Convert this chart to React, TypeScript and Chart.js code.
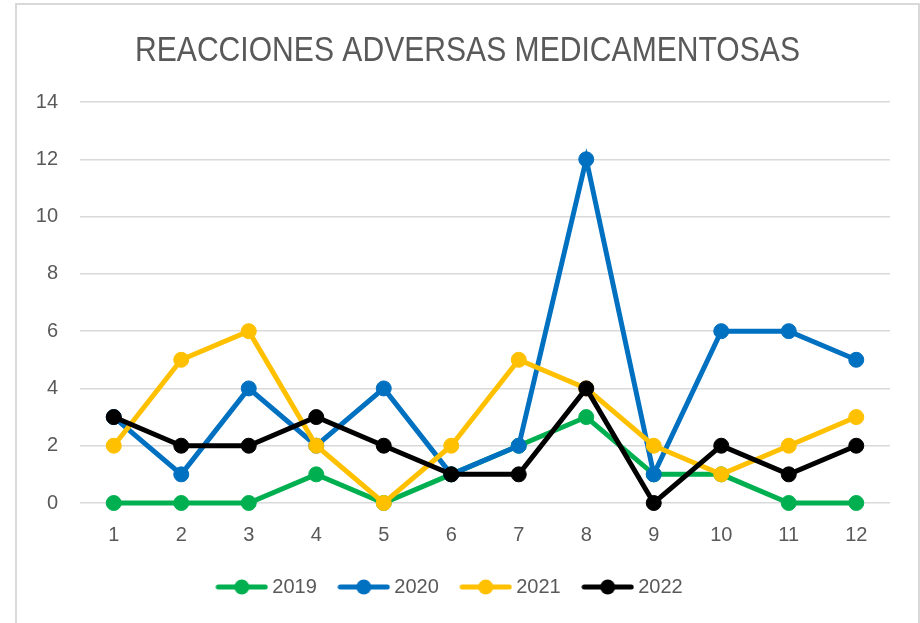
import React, { useEffect, useRef } from "react";
import { Chart, registerables } from "chart.js";

Chart.register(...registerables);

const TITLE = "REACCIONES ADVERSAS MEDICAMENTOSAS";
const months = ["1", "2", "3", "4", "5", "6", "7", "8", "9", "10", "11", "12"];
const seriesNames = ["2019", "2020", "2021", "2022"];
const values2019 = [0, 0, 0, 1, 0, 1, 2, 3, 1, 1, 0, 0];
const values2020 = [3, 1, 4, 2, 4, 1, 2, 12, 1, 6, 6, 5];
const values2021 = [2, 5, 6, 2, 0, 2, 5, 4, 2, 1, 2, 3];
const values2022 = [3, 2, 2, 3, 2, 1, 1, 4, 0, 2, 1, 2];
const seriesColors = ["#00B050", "#0070C0", "#FFC000", "#000000"];
const yMin = 0;
const yMax = 14;
const yStep = 2;

const TEXT_COLOR = "#595959";
const FONT = "'Liberation Sans', Arial, sans-serif";

function makeLegendImage(color: string): HTMLCanvasElement {
  const c = document.createElement("canvas");
  c.width = 53;
  c.height = 18;
  const ctx = c.getContext("2d")!;
  ctx.strokeStyle = color;
  ctx.lineWidth = 5;
  ctx.lineCap = "round";
  ctx.beginPath();
  ctx.moveTo(3, 9);
  ctx.lineTo(50, 9);
  ctx.stroke();
  ctx.fillStyle = color;
  ctx.beginPath();
  ctx.arc(26.5, 9, 7.5, 0, Math.PI * 2);
  ctx.fill();
  return c;
}

const titlePlugin = {
  id: "customTitle",
  afterDraw(chart: any) {
    const ctx = chart.ctx;
    ctx.save();
    ctx.font = `35px ${FONT}`;
    ctx.fillStyle = TEXT_COLOR;
    ctx.textAlign = "center";
    ctx.textBaseline = "middle";
    const w = ctx.measureText(TITLE).width;
    const sx = 665 / w;
    ctx.translate(467.5, 51);
    ctx.scale(sx, 1);
    ctx.fillText(TITLE, 0, 0);
    ctx.restore();
  },
};

export default function App() {
  const ref = useRef<HTMLCanvasElement>(null);

  useEffect(() => {
    if (!ref.current) return;
    const allValues = [values2019, values2020, values2021, values2022];
    const legendImgs = seriesColors.map(makeLegendImage);
    const datasets = seriesNames.map((name, i) => ({
      label: name,
      data: allValues[i],
      borderColor: seriesColors[i],
      backgroundColor: seriesColors[i],
      borderWidth: 5,
      pointRadius: 7.5,
      pointBorderWidth: 1,
      pointHoverRadius: 7.5,
      pointBackgroundColor: seriesColors[i],
      pointBorderColor: seriesColors[i],
      tension: 0,
      fill: false,
      clip: false as any,
      order: seriesNames.length - 1 - i,
    }));

    const chart = new Chart(ref.current, {
      type: "line",
      data: { labels: months, datasets },
      plugins: [titlePlugin],
      options: {
        animation: false,
        responsive: false,
        devicePixelRatio: 1,
        layout: { padding: { left: 14, right: 30, top: 102, bottom: 16 } },
        plugins: {
          title: { display: false },
          tooltip: { enabled: false },
          legend: {
            display: true,
            position: "bottom",
            labels: {
              usePointStyle: true,
              pointStyleWidth: 41,
              padding: 26.5,
              color: TEXT_COLOR,
              font: { family: FONT, size: 20 },
              sort: (a: any, b: any) => a.datasetIndex - b.datasetIndex,
              generateLabels: (c: any) => {
                const items = (Chart.defaults.plugins.legend.labels as any).generateLabels(c);
                items.forEach((it: any) => {
                  it.pointStyle = legendImgs[it.datasetIndex];
                });
                return items;
              },
            },
          },
        },
        scales: {
          x: {
            offset: true,
            grid: { display: false, drawTicks: false },
            border: { display: false },
            ticks: {
              color: TEXT_COLOR,
              font: { family: FONT, size: 20 },
              padding: 20,
              maxRotation: 0,
            },
            afterFit: (s: any) => {
              s.height = 47.5;
            },
          },
          y: {
            min: yMin,
            max: yMax,
            grid: { color: "#D9D9D9", lineWidth: 1.5, drawTicks: false },
            border: { display: false },
            ticks: {
              stepSize: yStep,
              color: TEXT_COLOR,
              font: { family: FONT, size: 20 },
              padding: 22,
            },
            afterFit: (s: any) => {
              s.width = 66;
            },
          },
        },
      },
    });
    return () => chart.destroy();
  }, []);

  return (
    <div style={{ position: "fixed", left: 0, top: 0, width: 920, height: 623, overflow: "hidden", background: "#fff" }}>
      <div
        style={{
          position: "absolute",
          left: 15,
          top: 3,
          width: 901,
          height: 700,
          border: "2px solid #D9D9D9",
          boxSizing: "content-box",
        }}
      />
      <canvas ref={ref} width={920} height={623} style={{ position: "absolute", left: 0, top: 0, width: 920, height: 623 }} />
    </div>
  );
}
